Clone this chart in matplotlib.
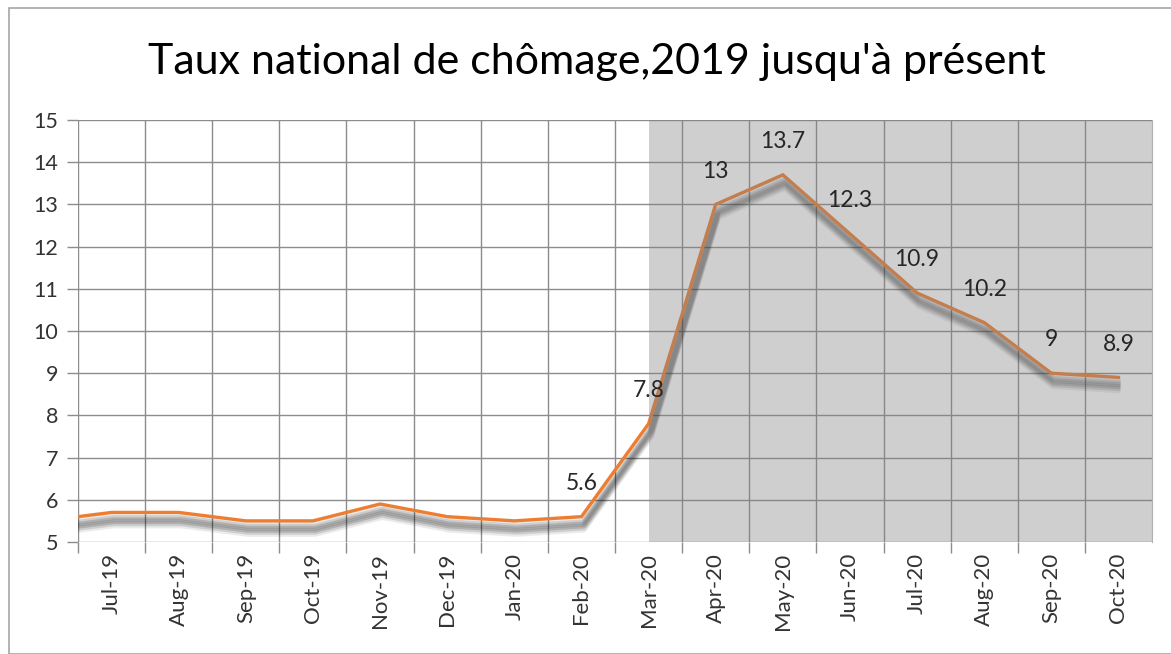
import matplotlib
matplotlib.use("Agg")
import matplotlib.pyplot as plt
import matplotlib.transforms as mtransforms
from matplotlib.patches import Rectangle

plt.rcParams['font.family'] = ['Lato', 'DejaVu Sans']

# data (Jun-19 is only partly visible at the left edge)
months = ["Jun-19", "Jul-19", "Aug-19", "Sep-19", "Oct-19", "Nov-19", "Dec-19", "Jan-20",
          "Feb-20", "Mar-20", "Apr-20", "May-20", "Jun-20", "Jul-20", "Aug-20",
          "Sep-20", "Oct-20"]
rates = [5.5, 5.7, 5.7, 5.5, 5.5, 5.9, 5.6, 5.5, 5.6, 7.8, 13.0, 13.7, 12.3, 10.9, 10.2, 9.0, 8.9]
labels = ["", "", "", "", "", "", "", "", "5.6", "7.8", "13", "13.7", "12.3", "10.9", "10.2", "9", "8.9"]
shade_from = "Mar-20"

fig = plt.figure(figsize=(11.71, 6.54), dpi=100)
ax = fig.add_axes([0.0666, 0.1713, 0.9172, 0.6452])

x = list(range(-1, len(months) - 1))

# soft shadow under the line
for dy, a in [(-3, 0.08), (-4.5, 0.12), (-6, 0.15), (-7.5, 0.12), (-9, 0.08)]:
    tr = mtransforms.offset_copy(ax.transData, fig=fig, x=1.5, y=dy, units='points')
    ax.plot(x, rates, color='black', lw=5, alpha=a, transform=tr,
            solid_capstyle='butt', solid_joinstyle='round', zorder=2)

ax.plot(x, rates, color='#ED7D31', lw=2.4, solid_joinstyle='miter', zorder=3)

# shaded period
i0 = months.index(shade_from) - 1
ax.add_patch(Rectangle((i0, 4.8), 20, 10.2, color='#7f7f7f', alpha=0.37,
                       lw=0, zorder=4, clip_on=True))

for xi, yi, lab in zip(x, rates, labels):
    if lab:
        ax.annotate(lab, (xi, yi), xytext=(0, 24), textcoords='offset points',
                    ha='center', va='center', fontsize=16.5, color='#262626', zorder=6)

ax.set_xlim(-0.5, len(months) - 1.5)
ax.set_ylim(5, 15)
ax.set_yticks(range(5, 16))
ax.tick_params(axis='y', labelsize=15.5, colors='#333333', length=8, width=1,
               color='#8c8c8c', pad=6)

# gridlines on category boundaries, labels at centers
ax.set_xticks([i - 0.5 for i in range(len(months) - 1)], minor=False)
ax.set_xticklabels([])
ax.set_xticks(range(0, len(months) - 1), minor=True)
ax.set_xticklabels(months[1:], minor=True, rotation=90, fontsize=16, color='#333333')
ax.tick_params(axis='x', which='major', length=8, width=1, color='#8c8c8c')
ax.tick_params(axis='x', which='minor', length=0, pad=8)

ax.grid(True, which='major', color='#8c8c8c', lw=1)
ax.set_axisbelow(True)
for s in ax.spines.values():
    s.set_visible(False)
ax.spines['right'].set_visible(True)
ax.spines['right'].set_color('#b0b0b0')

fig.text(0.51, 0.905, "Taux national de chômage,2019 jusqu'à présent",
         ha='center', va='center', fontsize=31, color='black')

# outer chart border
fig.add_artist(Rectangle((9 / 1171, 0), 1.2, 1 - 8 / 654, transform=fig.transFigure,
                         fill=False, edgecolor='#a6a6a6', lw=1.2))

fig.savefig("out.png", dpi=100)
